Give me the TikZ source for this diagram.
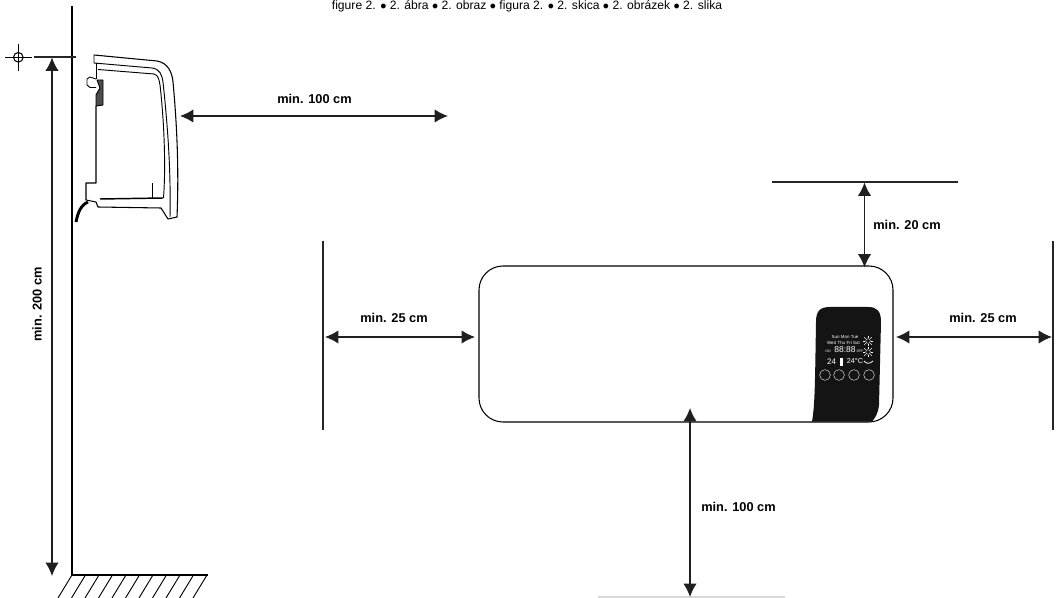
\documentclass[tikz,border=0pt]{standalone}
\usepackage{tikz}
\usepackage{fontspec}
\setmainfont{Liberation Sans}
\usetikzlibrary{arrows.meta}

\tikzset{
  dimline/.style={draw=black!88,line width=1pt,{Latex[length=10pt,width=10pt]}-{Latex[length=10pt,width=10pt]}},
  limitline/.style={draw=black!85,line width=0.8pt},
  dimlabel/.style={inner sep=0pt,font=\fontsize{9.6}{11}\selectfont\bfseries},
  devline/.style={draw=black,line width=0.7pt,line join=round},
  keybtn/.style={circle,draw=white,line width=0.3pt,minimum size=8pt,inner sep=0pt},
  lcdtext/.style={inner sep=0pt,text=white,font=\fontsize{3.3}{4}\selectfont},
  lcdsun/.style={circle,draw=white,line width=0.3pt,minimum size=3.5pt,inner sep=0pt}
}

\begin{document}
\begin{tikzpicture}[x=0.75pt,y=-0.75pt]

\useasboundingbox (0,0) rectangle (1059,598);

% caption
\node (caption) at (527,10) [anchor=base,inner sep=0pt,font=\fontsize{9.1}{10}\selectfont] {figure 2. $\bullet$ 2. ábra $\bullet$ 2. obraz $\bullet$ figura 2. $\bullet$ 2. skica $\bullet$ 2. obrázek $\bullet$ 2. slika};

% wall and floor
\coordinate (walltop) at (72,6);
\coordinate (corner) at (72,575);
\coordinate (floorend) at (208,575);
\draw[line width=1.2pt,line join=miter] (walltop) -- (corner) -- (floorend);
\foreach \i in {0,...,10}
  \draw[line width=0.7pt] (72+13.5*\i,575) -- (58+13.5*\i,598);

% level mark
\node (mark) at (18.3,57.3) [circle,draw,line width=0.8pt,minimum size=7.2pt,inner sep=0pt] {};
\draw[line width=0.8pt] (5,57.3) -- (32,57.3) (18.3,44) -- (18.3,71);
\coordinate (levelA) at (34,57);
\coordinate (levelB) at (76,57);
\draw[limitline] (levelA) -- (levelB);

% height
\coordinate (hTop) at (52,57.5);
\coordinate (hBot) at (52,576);
\draw[dimline] (hTop) -- (hBot);
\node (hLabel) at (37,304.5) [dimlabel,rotate=90] {min. 200 cm};

% device from the side
\draw[devline,line width=0.8pt] (94,55) -- (157,61) .. controls (168,63) and (172,72) .. (173,82)
  .. controls (177,125) and (179,170) .. (177,217) -- (168,219) -- (161,208)
  -- (98,207) -- (96,202) -- (86,200) -- (86,183) -- (96,183) -- (96,106);
\draw[devline] (94,55) -- (94,63) -- (152,68) .. controls (160,69) and (162,75) .. (163,82)
  .. controls (167,120) and (171,165) .. (170,217);
\draw[devline] (98,69.5) -- (154,74) .. controls (158,75) and (159,79) .. (160,85)
  .. controls (164,120) and (166,165) .. (163.5,198);
\draw[devline] (96,63) -- (96,79);
\draw[devline] (96,79) -- (90,77) -- (87,79) -- (87,85) -- (90,87.5) -- (96,87.5);
\draw[devline,fill=black!70] (97,80) -- (103,80) -- (103,105) -- (96,106) -- (96,95) -- (100,88) -- cycle;
\draw[black,line width=1.1pt] (100,199) -- (163,198);
\draw[devline] (152,183) -- (152,199);
\draw[black,line width=2.2pt] (76,222) .. controls (78,212) and (81,205) .. (88,202);

% clearance at the front of the device
\coordinate (frontA) at (180,116);
\coordinate (frontB) at (448,116);
\draw[dimline] (frontA) -- (frontB);
\node (frontLabel) at (314.5,98.5) [dimlabel] {min. 100 cm};

% heater body
\node (body) at (686,344) [draw=black,line width=0.8pt,rounded corners=18pt,minimum width=310.5pt,minimum height=117pt,inner sep=0pt] {};
\fill[black!92] (816,322) .. controls (816,311) and (820,307) .. (830,307)
  -- (868,307) .. controls (877,307) and (881,311) .. (881,322)
  -- (879,405) .. controls (878,414) and (875,418) .. (872,421.5)
  -- (812,421.5) .. controls (815,405) and (815,380) .. (816,322) -- cycle;

% display
\node (days1) at (845,337) [lcdtext] {Sun\,\,Mon\,\,Tue};
\node (days2) at (843.5,342.5) [lcdtext] {Wed\,\,Thu\,\,Fri\,\,Sat};
\node (clock) at (845,349.5) [lcdtext,font=\fontsize{6.4}{7}\selectfont] {88:88};
\node (on) at (828,351) [lcdtext,font=\fontsize{2.6}{3}\selectfont] {ON};
\node (off) at (860,351.5) [lcdtext,font=\fontsize{2.6}{3}\selectfont] {OFF};
\node (temp1) at (831.5,361.5) [lcdtext,font=\fontsize{6}{7}\selectfont] {24};
\node (temp2) at (855,361.5) [lcdtext,font=\fontsize{5.4}{7}\selectfont] {24\textdegree C};
\fill[white] (840,358) rectangle (843,366);
\node (sun1) at (868,341) [lcdsun] {};
\node (sun2) at (868,352) [lcdsun] {};
\foreach \a in {0,45,...,315} {
  \draw[white,line width=0.3pt] (sun1) ++(\a:3.2) -- ++(\a:2);
  \draw[white,line width=0.3pt] (sun2) ++(\a:3.2) -- ++(\a:2);
}
\draw[white,line width=0.6pt] (864,361) .. controls (866,364) and (870,364) .. (873,361);
\foreach \x/\name in {825/A,839/B,854/C,869/D}
  \node (btn\name) at (\x,375) [keybtn] {};

% clearances
\coordinate (topA) at (772,182);
\coordinate (topB) at (958,182);
\draw[limitline] (topA) -- (topB);
\coordinate (topC) at (864.5,182.5);
\coordinate (topD) at (864.5,267.5);
\draw[dimline] (topC) -- (topD);
\node (topLabel) at (907,224.5) [dimlabel] {min. 20 cm};

\coordinate (leftA) at (323,241);
\coordinate (leftB) at (323,430);
\draw[limitline] (leftA) -- (leftB);
\coordinate (leftC) at (325,337);
\coordinate (leftD) at (475,337);
\draw[dimline] (leftC) -- (leftD);
\node (leftLabel) at (394,318) [dimlabel] {min. 25 cm};

\coordinate (rightA) at (1053,241);
\coordinate (rightB) at (1053,430);
\draw[limitline] (rightA) -- (rightB);
\coordinate (rightC) at (896,337);
\coordinate (rightD) at (1052,337);
\draw[dimline] (rightC) -- (rightD);
\node (rightLabel) at (983,318) [dimlabel] {min. 25 cm};

\coordinate (bottomA) at (598,597);
\coordinate (bottomB) at (785,597);
\draw[draw=black!15,line width=1pt] (bottomA) -- (bottomB);
\coordinate (bottomC) at (690,408);
\coordinate (bottomD) at (690,597);
\draw[dimline] (bottomC) -- (bottomD);
\node (bottomLabel) at (738.5,506.5) [dimlabel] {min. 100 cm};

\end{tikzpicture}
\end{document}
